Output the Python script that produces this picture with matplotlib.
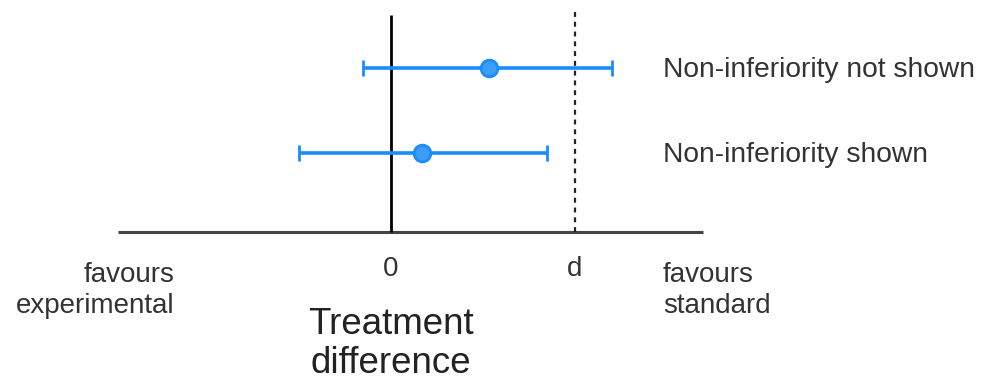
import matplotlib
matplotlib.use("Agg")
import matplotlib.pyplot as plt

plt.rcParams['font.family'] = ['Liberation Sans', 'DejaVu Sans']

# treatment difference, margin d = 1
labels = ["Non-inferiority not shown", "Non-inferiority shown"]
estimates = [0.53, 0.17]
lower = [-0.15, -0.50]
upper = [1.20, 0.85]
rows = [2, 1]
margin = 1.0
tick_labels = ["0", "d"]

blue = "#1a8cff"

fig = plt.figure(figsize=(9.84, 3.87), dpi=100)
ax = fig.add_axes([0, 0, 1, 1])
ax.set_xlim(-391 / 184, (984 - 391) / 184)
ax.set_ylim(1 - (387 - 153) / 85, 2 + 153 / 85 - 1)
ax.axis("off")

# baseline and reference lines
ax.plot([-1.484, 1.696], [0.07, 0.07], color="#444444", lw=2.2, solid_capstyle="butt")
ax.plot([0, 0], [0.07, 2.62], color="black", lw=2, solid_capstyle="butt")
ax.plot([margin, margin], [0.07, 2.66], color="#222222", lw=1.6,
        linestyle=(0, (2.2, 2.2)))

for y, est, lo, hi, lab in zip(rows, estimates, lower, upper, labels):
    ax.errorbar(est, y, xerr=[[est - lo], [hi - est]], fmt="o", color=blue,
                ecolor=blue, elinewidth=2.6, capsize=6, capthick=2.6,
                markersize=12, markerfacecolor="#3d9ef7", markeredgecolor=blue,
                markeredgewidth=2)
    ax.text(1.478, y - 0.02, lab, fontsize=20.3, color="#333333", va="center", ha="left")

for xv, t in zip([0, margin], tick_labels):
    ax.text(xv, -0.37, t, fontsize=20, color="#333333", ha="center", va="center")

ax.text(-1.174, -0.62, "favours\nexperimental", fontsize=20, color="#333333",
        ha="right", va="center", multialignment="right", linespacing=1.25)
ax.text(1.478, -0.62, "favours\nstandard", fontsize=20, color="#333333",
        ha="left", va="center", multialignment="left", linespacing=1.25)
ax.text(0, -1.25, "Treatment\ndifference", fontsize=26.5, color="#222222",
        ha="center", va="center", linespacing=1.15)

fig.savefig("out.png", dpi=100)
